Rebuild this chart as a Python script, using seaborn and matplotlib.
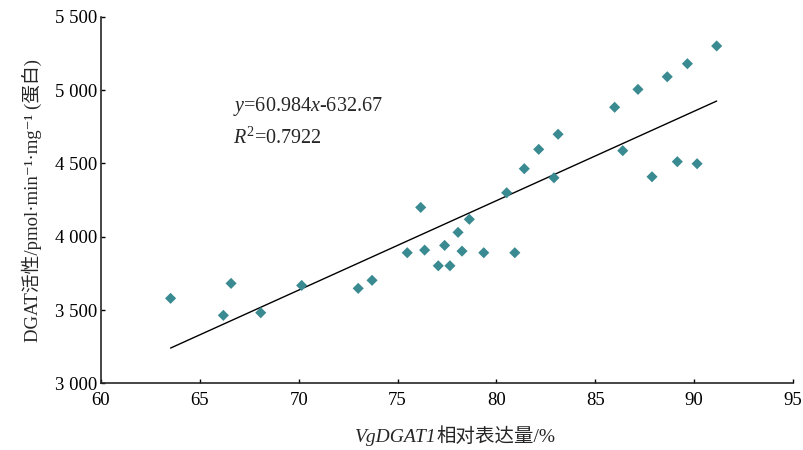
import numpy as np
import pandas as pd
import matplotlib
matplotlib.use("Agg")
import matplotlib.pyplot as plt
import seaborn as sns

# Data
expression = [63.52, 66.58, 66.19, 68.08, 70.15, 73.01, 73.71,
              76.17, 80.52, 78.63, 78.06, 77.38, 75.49, 76.37, 78.26,
              79.36, 80.93, 77.06, 77.65,
              81.41, 82.14, 83.12, 82.91, 85.98, 86.39, 87.16, 87.87,
              88.64, 89.15, 89.66, 90.15, 91.14]
activity = [3580, 3682, 3464, 3482, 3668, 3648, 3703,
            4200, 4300, 4119, 4030, 3941, 3891, 3909, 3902,
            3891, 3891, 3802, 3802,
            4464, 4596, 4699, 4402, 4883, 4587, 5005, 4409,
            5091, 4512, 5180, 4498, 5301]
slope = 60.984
intercept = -632.67
r_squared = 0.7922
x_ticks = [60, 65, 70, 75, 80, 85, 90, 95]
y_ticks = [3000, 3500, 4000, 4500, 5000, 5500]
y_tick_labels = ["3 000", "3 500", "4 000", "4 500", "5 000", "5 500"]

df = pd.DataFrame({"x": expression, "y": activity})

sns.set_style("ticks")
fonts = ['Liberation Serif', 'Noto Sans CJK SC', 'DejaVu Sans']
plt.rcParams['font.family'] = fonts
plt.rcParams['mathtext.fontset'] = 'custom'
plt.rcParams['mathtext.rm'] = 'Liberation Serif'
plt.rcParams['mathtext.it'] = 'Liberation Serif:italic'

fig = plt.figure(figsize=(8.04, 4.5), dpi=100)
ax = fig.add_axes([0.1256, 0.148, 0.8607, 0.8147])

sns.scatterplot(data=df, x="x", y="y", ax=ax, marker="D", s=32,
                color="#3a8a91", edgecolor="none", zorder=3)

# Trend line from the fitted equation
line_x = np.array([min(expression), max(expression)])
line_df = pd.DataFrame({"x": line_x, "y": slope * line_x + intercept})
sns.lineplot(data=line_df, x="x", y="y", ax=ax, color="black", linewidth=1.0)

ax.set_xlim(60, 95)
ax.set_ylim(3000, 5500)
ax.set_xticks(x_ticks)
ax.set_yticks(y_ticks)
ax.set_yticklabels(y_tick_labels)
ax.set_xlabel("")
sns.despine(ax=ax)
for s in ["left", "bottom"]:
    ax.spines[s].set_linewidth(1.2)
ax.tick_params(direction="in", length=3, width=1, labelsize=13.5, colors="black")
ax.tick_params(axis="x", pad=6)
ax.tick_params(axis="y", pad=3)

ax.set_ylabel("DGAT活性/pmol·min⁻¹·mg⁻¹ (蛋白)", fontsize=13.5, labelpad=9)

# x label: italic gene name followed by upright Chinese text
fig.canvas.draw()
renderer = fig.canvas.get_renderer()
label_y = 1 - 437 / 450
t1 = fig.text(0, label_y, "VgDGAT1", fontsize=14, fontstyle="italic",
              family=fonts, va="center", ha="left")
t2 = fig.text(0, label_y, "相对表达量/%", fontsize=14, family=fonts,
              va="center", ha="left")
w1 = t1.get_window_extent(renderer).width
w2 = t2.get_window_extent(renderer).width
x0 = (455 - (w1 + w2) / 2) / 804
t1.set_x(x0)
t2.set_x(x0 + w1 / 804)

ax.text(66.7, 4885, "$\\it{y}$=%.3f$\\it{x}$-%.2f" % (slope, -intercept),
        fontsize=14.5, va="center")
ax.text(66.7, 4673, "$\\it{R}^2$=%.4f" % r_squared, fontsize=14.5, va="center")

fig.savefig("out.png", dpi=100)
